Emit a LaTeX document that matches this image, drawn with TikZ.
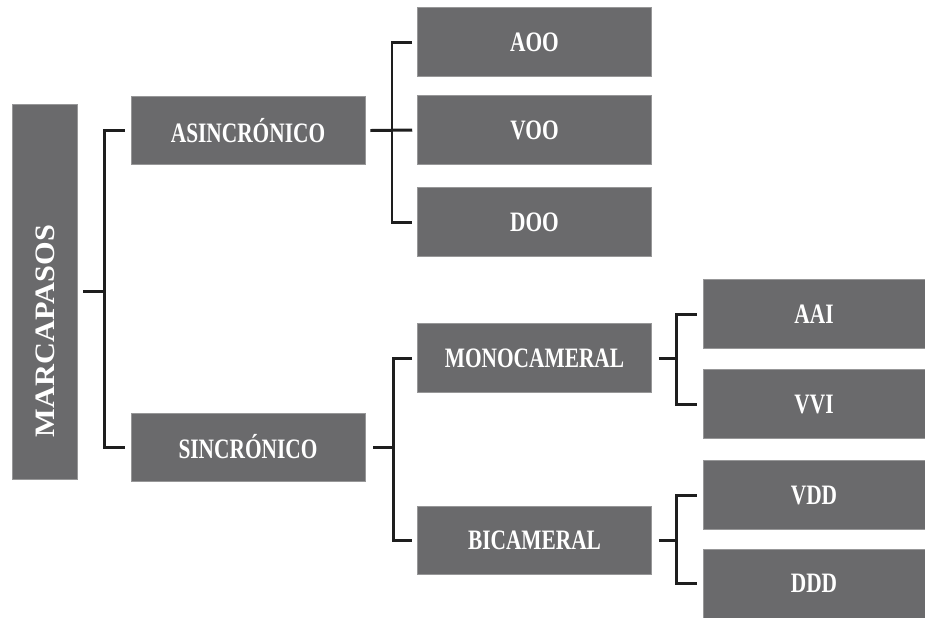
\documentclass[tikz,border=0pt]{standalone}
\usepackage{fontspec}
\setmainfont{Liberation Serif}
\newfontfamily\narrowfont[FakeStretch=0.76]{Liberation Serif Bold}
\newfontfamily\widefont[FakeStretch=1.08]{Liberation Serif Bold}
\usepackage{tikz}
\usetikzlibrary{positioning}
\usepackage{xcolor}
\definecolor{boxgray}{RGB}{106,106,108}
\definecolor{linegray}{RGB}{30,30,30}
\tikzstyle{box} = [fill=boxgray, draw=boxgray!70!white, line width=0.3pt, text=white, font=\narrowfont\fontsize{16}{18}\selectfont, inner sep=0pt]
\tikzstyle{midbox} = [box, minimum width=4.68cm, minimum height=1.37cm]
\tikzstyle{leafbox} = [box, minimum width=4.44cm, minimum height=1.38cm]
\tikzstyle{conn} = [line width=1.7pt, color=linegray]

\begin{document}
\begin{tikzpicture}
\useasboundingbox (0,0) rectangle (18.5,-12.34);

% root
\node[box, minimum width=1.30cm, minimum height=7.50cm] (marc) at (0.89,-5.83) {};
\node[text=white, font=\widefont\fontsize{16}{18}\selectfont, rotate=90] (marclbl) at (0.90,-6.62) {MARCAPASOS};

% second level
\node[midbox] (asin) at (4.96,-2.61) {ASINCR\'ONICO};
\node[midbox] (sinc) at (4.96,-8.94) {SINCR\'ONICO};

% asincronico modes
\node[midbox] (aoo) at (10.69,-0.84) {AOO};
\node[midbox] (voo) at (10.69,-2.60) {VOO};
\node[midbox] (doo) at (10.69,-4.44) {DOO};

% sincronico types
\node[midbox] (mono) at (10.69,-7.16) {MONOCAMERAL};
\node[midbox] (bica) at (10.69,-10.80) {BICAMERAL};

% leaves
\node[leafbox] (aai) at (16.28,-6.28) {AAI};
\node[leafbox] (vvi) at (16.28,-8.08) {VVI};
\node[leafbox] (vdd) at (16.28,-9.90) {VDD};
\node[leafbox] (ddd) at (16.28,-11.67) {DDD};

% brackets
\draw[conn] ([xshift=0.12cm]marc.east) -- ++(0.42,0) coordinate (j0);
\draw[conn] ([xshift=-0.12cm]asin.west) -| (j0) |- ([xshift=-0.12cm]sinc.west);

\draw[conn] ([xshift=0.10cm]asin.east) -- ([xshift=-0.10cm]voo.west);
\coordinate (j1) at (7.84,-2.60);
\draw[conn] ([xshift=-0.10cm]aoo.west) -| (j1) |- ([xshift=-0.10cm]doo.west);

\draw[conn] ([xshift=0.16cm]sinc.east) -- ++(0.40,0) coordinate (j2);
\draw[conn] ([xshift=-0.10cm]mono.west) -| (j2) |- ([xshift=-0.10cm]bica.west);

\draw[conn] ([xshift=0.14cm]mono.east) -- ++(0.36,0) coordinate (j3);
\draw[conn] ([xshift=-0.12cm]aai.west) -| (j3) |- ([xshift=-0.12cm]vvi.west);

\draw[conn] ([xshift=0.14cm]bica.east) -- ++(0.36,0) coordinate (j4);
\draw[conn] ([xshift=-0.12cm]vdd.west) -| (j4) |- ([xshift=-0.12cm]ddd.west);
\end{tikzpicture}
\end{document}
